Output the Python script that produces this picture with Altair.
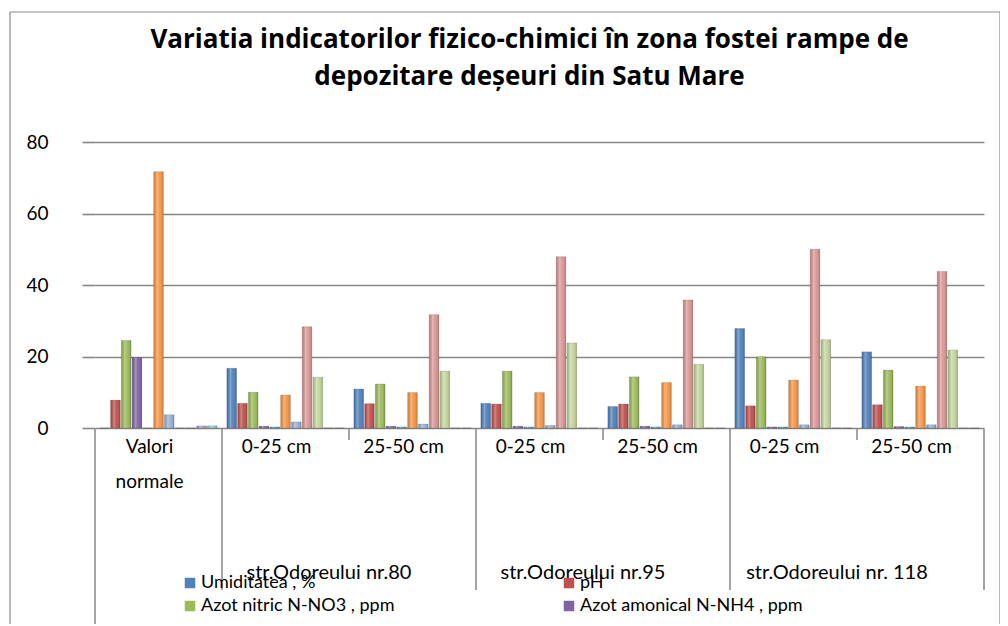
import altair as alt
import pandas as pd

# ---------------- data ----------------
title_lines = "Variatia indicatorilor fizico-chimici în zona fostei rampe de\ndepozitare deșeuri din Satu Mare"

keys = ["Valori normale", "nr80 0-25", "nr80 25-50", "nr95 0-25", "nr95 25-50",
        "nr118 0-25", "nr118 25-50"]
cat_labels = ["Valori\nnormale", "0-25 cm", "25-50 cm", "0-25 cm", "25-50 cm",
              "0-25 cm", "25-50 cm"]
group_labels = ["str.Odoreului nr.80", "str.Odoreului nr.95", "str.Odoreului nr. 118"]
group_first_keys = ["nr80 0-25", "nr95 0-25", "nr118 0-25"]

series_names = ["Umiditatea , %", "pH", "Azot nitric N-NO3 , ppm",
                "Azot amonical N-NH4 , ppm", "Seria 5", "Seria 6", "Seria 7",
                "Seria 8", "Seria 9", "Seria 10", "Seria 11"]
colors = ["#4F81BD", "#C0504D", "#9BBB59", "#8064A2", "#4BACC6", "#F79646",
          "#95B3D7", "#D99694", "#C3D69B", "#B3A2C7", "#93CDDD"]

umiditatea = [0, 16.7, 10.9, 6.9, 6.0, 27.8, 21.3]
ph = [7.8, 6.9, 6.8, 6.7, 6.7, 6.2, 6.5]
azot_nitric = [24.5, 10.0, 12.3, 15.9, 14.3, 19.9, 16.2]
azot_amonical = [19.7, 0.5, 0.5, 0.5, 0.5, 0.3, 0.4]
seria5 = [0, 0.3, 0.3, 0.3, 0.3, 0.3, 0.3]
seria6 = [71.7, 9.2, 9.9, 9.9, 12.7, 13.4, 11.7]
seria7 = [3.7, 1.7, 1.1, 0.7, 0.9, 0.9, 0.9]
seria8 = [0, 28.3, 31.7, 47.9, 35.8, 50.0, 43.8]
seria9 = [0, 14.2, 15.9, 23.8, 17.8, 24.7, 21.8]
seria10 = [0.6, 0, 0, 0, 0, 0, 0]
seria11 = [0.6, 0, 0, 0, 0, 0, 0]

all_values = [umiditatea, ph, azot_nitric, azot_amonical, seria5, seria6,
              seria7, seria8, seria9, seria10, seria11]

rows = []
for s, vals in zip(series_names, all_values):
    for k, v in zip(keys, vals):
        rows.append({"key": k, "serie": s, "value": v})
df = pd.DataFrame(rows)

cat_df = pd.DataFrame({"key": keys, "label": cat_labels})
grp_df = pd.DataFrame({"key": group_first_keys, "label": group_labels})
title_df = pd.DataFrame({"t": [title_lines]})

FONT = "Lato"
W, H = 889, 286

xscale = alt.Scale(domain=keys, paddingInner=0, paddingOuter=0)
offscale = alt.Scale(domain=series_names, paddingInner=0.1, paddingOuter=0.45)
yscale = alt.Scale(domain=[0, 80], nice=False)


def xk(band=0.5):
    return alt.X("key:N", scale=xscale, sort=keys, bandPosition=band, axis=None)


bars = alt.Chart(df).mark_bar(strokeWidth=0.6, stroke="#00000040").encode(
    x=alt.X("key:N", scale=xscale, sort=keys,
            axis=alt.Axis(labels=False, ticks=False, title=None, domain=True,
                          grid=False, domainColor="#868686", domainWidth=2)),
    xOffset=alt.XOffset("serie:N", sort=series_names, scale=offscale),
    y=alt.Y("value:Q", scale=yscale,
            axis=alt.Axis(values=[0, 20, 40, 60, 80], title=None, domain=False,
                          ticks=True, tickSize=13, tickColor="#868686",
                          tickWidth=1.6, labelPadding=34, labelFontSize=19,
                          labelFont=FONT, labelColor="#000000",
                          gridColor="#868686", gridWidth=1.6)),
    color=alt.Color("serie:N", sort=series_names,
                    scale=alt.Scale(domain=series_names, range=colors),
                    legend=alt.Legend(values=series_names[:4], columns=2,
                                      direction="horizontal",
                                      orient="none", legendX=86, legendY=432,
                                      title=None, symbolType="square",
                                      symbolSize=110, symbolStrokeWidth=0,
                                      labelFontSize=18, labelFont=FONT,
                                      labelColor="#000000", columnPadding=165,
                                      rowPadding=5, labelOffset=2,
                                      labelLimit=400)),
)

# cylinder-like shading on top of every bar
shade = alt.Chart(df).mark_bar(
    color=alt.LinearGradient(
        gradient="linear", x1=0, x2=1, y1=0, y2=0,
        stops=[alt.GradientStop(offset=0, color="rgba(0,0,0,0.10)"),
               alt.GradientStop(offset=0.35, color="rgba(255,255,255,0.30)"),
               alt.GradientStop(offset=0.6, color="rgba(255,255,255,0.05)"),
               alt.GradientStop(offset=1, color="rgba(0,0,0,0.18)")])).encode(
    x=xk(0.5),
    xOffset=alt.XOffset("serie:N", sort=series_names, scale=offscale),
    y=alt.Y("value:Q", scale=yscale),
)

cat_text = alt.Chart(cat_df).mark_text(
    lineBreak="\n", lineHeight=35, baseline="top", fontSize=19, font=FONT,
    color="#000000", dx=-9).encode(
    x=xk(0.5),
    y=alt.value(H + 10),
    text="label:N",
)

grp_text = alt.Chart(grp_df).mark_text(
    baseline="middle", fontSize=20, font=FONT, color="#000000", dx=-20).encode(
    x=xk(1),
    y=alt.value(H + 145),
    text="label:N",
)

title_text = alt.Chart(title_df).mark_text(
    lineBreak="\n", lineHeight=37, baseline="alphabetic", align="center",
    fontSize=26, font="Open Sans", fontWeight="bold", color="#000000").encode(
    x=alt.value(W / 2 - 10), y=alt.value(-94), text="t:N")

# separators of the category axis
main_sep = pd.DataFrame({"key": ["nr80 0-25", "nr95 0-25", "nr118 0-25"]})
small_sep = pd.DataFrame({"key": ["nr80 25-50", "nr95 25-50", "nr118 25-50"]})
left_sep = pd.DataFrame({"key": ["Valori normale"]})
right_sep = pd.DataFrame({"key": ["nr118 25-50"]})
frame_df = pd.DataFrame({"f": [0]})

rule_style = dict(color="#868686", strokeWidth=1.5)
r_main = alt.Chart(main_sep).mark_rule(**rule_style).encode(
    x=xk(0), y=alt.value(H + 1), y2=alt.value(H + 162))
r_small = alt.Chart(small_sep).mark_rule(**rule_style).encode(
    x=xk(0), y=alt.value(H + 1), y2=alt.value(H + 12))
r_left = alt.Chart(left_sep).mark_rule(**rule_style).encode(
    x=xk(0), y=alt.value(H + 1), y2=alt.value(H + 220))
r_right = alt.Chart(right_sep).mark_rule(**rule_style).encode(
    x=xk(1), y=alt.value(H + 1), y2=alt.value(H + 162))

# outer chart frame
frame = alt.Chart(frame_df).mark_rect(fill="transparent", stroke="#8C8C8C",
                                      strokeWidth=1.2).encode(
    x=alt.value(-85), x2=alt.value(905), y=alt.value(-130), y2=alt.value(520))

chart = alt.layer(frame, bars, shade, cat_text, grp_text, title_text, r_main,
                  r_small, r_left, r_right).properties(
    width=W, height=H,
    autosize=alt.AutoSizeParams(type="none"),
    padding={"left": 87, "top": 134, "right": 16, "bottom": 196},
    view=alt.ViewBackground(stroke="transparent", strokeWidth=0),
).configure_view(stroke="transparent", strokeWidth=0).configure_axisX(
    grid=False).configure(background="#FFFFFF")

chart.save("out.html", embed_options={"renderer": "svg", "actions": False})
